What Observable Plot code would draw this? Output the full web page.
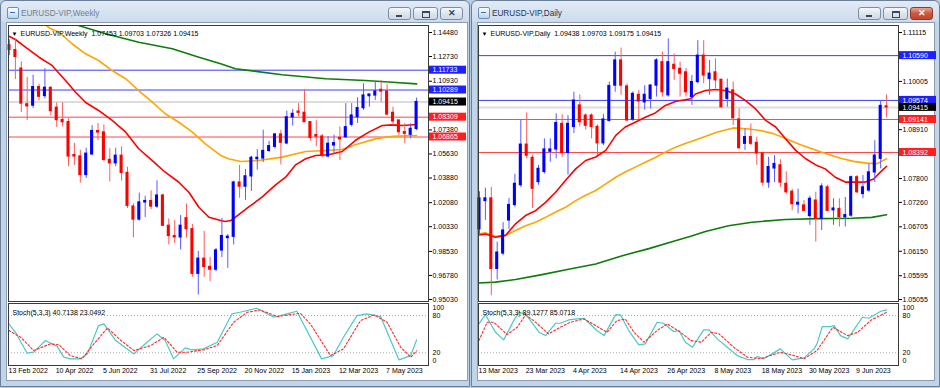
<!DOCTYPE html>
<html>
<head>
<meta charset="utf-8">
<script src="https://cdn.jsdelivr.net/npm/d3@7"></script>
<script src="https://cdn.jsdelivr.net/npm/@observablehq/plot@0.6"></script>
<style>
html,body{margin:0;padding:0}
body{width:940px;height:388px;overflow:hidden;position:relative;background:#b8cde4;font-family:"Liberation Sans",Arial,sans-serif}
.win{position:absolute;top:0;height:387px;box-sizing:border-box;border:1px solid #6b7f98;border-radius:6px 6px 0 0;background:linear-gradient(#e2ebf6 0,#cddcec 20px,#c2d4e8 22px,#c2d4e8 100%)}
.ttl{position:absolute;top:7px;font-size:8.2px;line-height:11px;white-space:nowrap}
.inactive{color:#6d7f95}
.active{color:#1d3557}
.icon{position:absolute;top:6px;width:10px;height:10px;border:1px solid #6c8fb6;border-radius:2px;background:linear-gradient(#ffffff,#b9d3ee)}
.icon:after{content:"";position:absolute;left:2px;top:4px;width:5px;height:3px;border-top:1px solid #3a72b8}
.btn{position:absolute;top:6px;height:13px;box-sizing:border-box;border:1px solid #7d8ea4;border-radius:3px;background:linear-gradient(#f6f8fb,#dde5ee 50%,#cfd9e5)}
.gmin{position:absolute;left:7px;top:7px;width:6px;height:2px;background:#36475c}
.grest{position:absolute;left:8px;top:3px;width:6px;height:4px;border:1px solid #36475c;border-top-width:2px}
.gx{position:absolute;left:0;right:0;top:0;text-align:center;font-size:9px;line-height:11px;color:#36475c;font-weight:bold}
.red{background:linear-gradient(#e8a493,#d0573f 50%,#c3452c);border-color:#8e3b2c}
.red .gx{color:#fff}
.client{position:absolute;background:#fff;border:1px solid #8d9cb0;box-sizing:border-box}
.chart{position:absolute}
</style>
</head>
<body>
<div class="win" style="left:0;width:470px">
  <div class="icon" style="left:6px"></div>
  <div class="ttl inactive" style="left:20px">EURUSD-VIP,Weekly</div>
  <div class="btn" style="left:387px;width:23px"><div class="gmin"></div></div>
  <div class="btn" style="left:412px;width:25px"><div class="grest"></div></div>
  <div class="btn" style="left:439px;width:23px"><div class="gx">✕</div></div>
  <div class="client" style="left:5px;top:21px;width:462px;height:359px"></div>
</div>
<div class="win" style="left:471px;width:469px">
  <div class="icon" style="left:6px"></div>
  <div class="ttl active" style="left:20px">EURUSD-VIP,Daily</div>
  <div class="btn" style="left:386px;width:23px"><div class="gmin"></div></div>
  <div class="btn" style="left:411px;width:25px"><div class="grest"></div></div>
  <div class="btn red" style="left:438px;width:23px"><div class="gx">✕</div></div>
  <div class="client" style="left:5px;top:21px;width:458px;height:359px"></div>
</div>
<script>
// ---------- Weekly EURUSD (13 Feb 2022 .. 11 Jun 2023) ----------
const wOpen = [1.1355,1.1320,1.1185,1.0925,1.0915,1.1050,1.0985,1.1045,1.0900,1.0810,
1.0795,1.0555,1.0545,1.0410,1.0560,1.0730,1.0720,1.0520,1.0495,1.0550,
1.0425,1.0180,1.0085,1.0210,1.0220,1.0180,1.0260,1.0040,0.9965,0.9955,
1.0095,1.0015,0.9690,0.9800,0.9740,0.9720,0.9860,0.9950,0.9960,1.0355,
1.0325,1.0400,1.0525,1.0530,1.0585,1.0615,1.0705,1.0640,1.0830,1.0872,
1.0863,1.0795,1.0700,1.0690,1.0545,1.0625,1.0680,1.0685,1.0776,1.0831,
1.0897,1.0984,1.0989,1.1030,1.1018,1.0863,1.0807,1.0722,1.0703,1.07453];
const wHigh = [1.1395,1.1395,1.1235,1.1121,1.1137,1.1070,1.1185,1.1050,1.0935,1.0936,
1.0820,1.0640,1.0590,1.0605,1.0770,1.0785,1.0775,1.0601,1.0605,1.0615,
1.0465,1.0200,1.0278,1.0255,1.0295,1.0368,1.0270,1.0090,1.0079,1.0114,
1.0198,1.0050,0.9853,0.9999,0.9810,0.9875,1.0093,0.9975,1.0365,1.0480,
1.0450,1.0545,1.0595,1.0736,1.0655,1.0713,1.0735,1.0875,1.0887,1.0930,
1.1033,1.0800,1.0805,1.0705,1.0690,1.0700,1.0760,1.0930,1.0930,1.0973,
1.1075,1.1001,1.1091,1.1098,1.1068,1.0904,1.0807,1.0783,1.0783,1.09703];
const wLow = [1.1280,1.1106,1.0866,1.0806,1.0895,1.0950,1.0965,1.0840,1.0757,1.0760,
1.0470,1.0480,1.0350,1.0385,1.0550,1.0660,1.0505,1.0359,1.0470,1.0366,
1.0165,0.9952,1.0075,1.0100,1.0158,1.0165,1.0035,0.9900,0.9910,0.9864,
0.9950,0.9665,0.9536,0.9665,0.9632,0.9705,0.9808,0.9730,0.9900,1.0240,
1.0225,1.0290,1.0445,1.0500,1.0575,1.0600,1.0483,1.0630,1.0766,1.0835,
1.0795,1.0655,1.0615,1.0535,1.0535,1.0560,1.0515,1.0676,1.0760,1.0785,
1.0880,1.0904,1.0953,1.0940,1.0848,1.0770,1.0698,1.0637,1.0673,1.07326];
const wClose = [1.1320,1.1270,1.0930,1.0910,1.1050,1.0980,1.1045,1.0875,1.0810,1.0795,
1.0545,1.0545,1.0410,1.0565,1.0730,1.0720,1.0520,1.0495,1.0550,1.0425,
1.0185,1.0085,1.0210,1.0220,1.0180,1.0260,1.0040,0.9965,0.9955,1.0040,
1.0015,0.9690,0.9800,0.9740,0.9720,0.9860,0.9965,0.9960,1.0355,1.0325,
1.0400,1.0535,1.0535,1.0585,1.0620,1.0705,1.0645,1.0830,1.0855,1.0863,
1.0795,1.0680,1.0690,1.0552,1.0637,1.0642,1.0670,1.0758,1.0843,1.0897,
1.0989,1.0996,1.1018,1.1018,1.0850,1.0800,1.0722,1.0710,1.0746,1.09415];
// moving averages: [bar index, price]
const wMaRed = [[0.9,1.1421],[2,1.1397],[3.7,1.1341],[6,1.1268],[8.2,1.1208],[10.5,1.1098],[12.2,1.1013],[13.9,1.0938],[16.1,1.0880],[18.4,1.0807],[20.7,1.0722],[22.9,1.0601],[25.2,1.0515],[27.4,1.0430],[29.7,1.0357],[31.4,1.0284],[33.1,1.0175],[34.8,1.0102],[36.8,1.0078],[37.6,1.0071],[38.5,1.0078],[39.3,1.0102],[41.5,1.0175],[43.8,1.0248],[46.1,1.0338],[47.8,1.0394],[49.5,1.0484],[51.2,1.0528],[52.9,1.0552],[55.1,1.0557],[57.4,1.0581],[59.6,1.0661],[61.9,1.0722],[64.2,1.0770],[65.9,1.0775],[67.6,1.0770],[70,1.0778]];
const wMaOrange = [[7.2,1.1500],[7.9,1.1477],[9.4,1.1450],[11.6,1.1366],[13.9,1.1293],[16.1,1.1244],[18.4,1.1171],[20.7,1.1111],[22.9,1.1025],[25.2,1.0940],[27.4,1.0856],[29.7,1.0794],[32,1.0722],[34.2,1.0637],[36.8,1.0552],[38.1,1.0528],[40.2,1.0508],[43.2,1.0515],[47.2,1.0540],[51.2,1.0581],[54.6,1.0588],[57.4,1.0596],[59.6,1.0630],[63,1.0673],[65.9,1.0692],[70,1.0698]];
const wMaGreen = [[12,1.1505],[12.7,1.1499],[17.3,1.1439],[22.9,1.1377],[28.6,1.1329],[33.1,1.1268],[36.8,1.1220],[39.3,1.1184],[47.2,1.1140],[54.6,1.1111],[61.3,1.1098],[65.9,1.1086],[70,1.1074]];
const wStochK = [[0.9,66.5],[2,53],[4,19.3],[5.1,21],[7.1,39.7],[9.1,30],[10.2,12.9],[11.3,10.2],[13,10.2],[14.2,18.2],[16.1,63.8],[17,66.5],[19,39.7],[22.1,18.2],[24.3,37],[26,50.4],[27.4,39.7],[28.8,10.2],[30.8,27.9],[31.9,24.7],[33.9,26.3],[36.2,37],[38.7,82.6],[40.1,85.3],[42.9,91.7],[45.8,77.2],[48,82.6],[49.7,86.9],[53.9,10.2],[55.9,15.5],[57.6,45],[59.9,79.9],[61.6,82.6],[63.9,78.3],[67,8.6],[69,15.5],[70,40.7]];
const wStochD = [[0.9,55.8],[2.9,45],[5.1,23.6],[7.9,34.3],[9.4,32.7],[11.3,15.5],[13.3,10.2],[15.3,34.3],[17.6,60],[19.9,39.7],[22.1,23.6],[24.9,31.6],[27.2,45],[29.4,20.9],[31.1,20.9],[33.9,24.7],[36.2,31.6],[39,69.2],[41.3,85.3],[43.5,89],[46.4,78.3],[48.6,81.5],[50.3,83.6],[52,66.5],[55.4,15.5],[57.6,26.3],[60.5,71.8],[62.8,81],[65,69.2],[67.3,29],[69,12.9],[70,23.0]];
const wTicks = [1.14480,1.12730,1.10930,1.07380,1.05630,1.03880,1.02080,1.00330,0.98530,0.96780,0.95030];
const wDateIdx = [1,9,17,25,33,41,49,57,65];
const wDateText = ["13 Feb 2022","10 Apr 2022","5 Jun 2022","31 Jul 2022","25 Sep 2022","20 Nov 2022","15 Jan 2023","12 Mar 2023","7 May 2023"];
const wBlueLevels = [1.11733,1.10289];
const wRedLevels = [1.08309,1.06865];
const wBid = 1.09415;
const wHeader = "EURUSD-VIP,Weekly  1.07453 1.09703 1.07326 1.09415";
const wStochHeader = "Stoch(5,3,3) 40.7138 23.0492";

// ---------- Daily EURUSD (13 Mar 2023 .. 16 Jun 2023) ----------
const dOpen = [1.0665,1.0729,1.0735,1.0575,1.0610,1.0685,1.0720,1.0765,1.0857,1.0827,
1.0772,1.0795,1.0841,1.0846,1.0904,1.0838,1.0897,1.0946,1.0923,1.0923,
1.0897,1.0860,1.0911,1.0991,1.1048,1.0989,1.0914,1.0970,1.0953,1.0961,
1.0991,1.1044,1.0969,1.1038,1.1029,1.1021,1.0965,1.0999,1.1059,1.1006,
1.1021,1.1004,1.0961,1.0980,1.0914,1.0859,1.0874,1.0861,1.0837,1.0771,
1.0803,1.0810,1.0768,1.0750,1.0721,1.0719,1.0695,1.0730,1.0689,1.0760,
1.0708,1.0711,1.0692,1.0696,1.0783,1.0745,1.0753,1.0794,1.0825,1.09438];
const dHigh = [1.0750,1.0758,1.0760,1.0636,1.0680,1.0735,1.0790,1.0912,1.0929,1.0833,
1.0810,1.0870,1.0870,1.0927,1.0925,1.0923,1.0976,1.0970,1.0927,1.0927,
1.0902,1.0926,1.0999,1.1067,1.1076,1.0995,1.0977,1.0980,1.0991,1.0993,
1.1052,1.1067,1.1097,1.1063,1.1044,1.1030,1.1014,1.1093,1.1093,1.1048,
1.1052,1.1006,1.1006,1.0999,1.0938,1.0893,1.0904,1.0874,1.0840,1.0828,
1.0832,1.0823,1.0795,1.0756,1.0756,1.0730,1.0740,1.0749,1.0768,1.0765,
1.0734,1.0734,1.0737,1.0786,1.0787,1.0787,1.0813,1.0866,1.0957,1.09703];
const dLow = [1.0650,1.0685,1.0514,1.0550,1.0605,1.0665,1.0715,1.0760,1.0825,1.0712,
1.0765,1.0790,1.0817,1.0825,1.0828,1.0788,1.0882,1.0897,1.0890,1.0870,
1.0832,1.0855,1.0908,1.0976,1.0969,1.0910,1.0910,1.0914,1.0935,1.0938,
1.0965,1.0965,1.0965,1.1003,1.0965,1.0965,1.0946,1.0995,1.0995,1.0969,
1.0984,1.0940,1.0942,1.0900,1.0847,1.0844,1.0855,1.0810,1.0763,1.0758,
1.0771,1.0760,1.0745,1.0707,1.0700,1.0705,1.0674,1.0636,1.0662,1.0705,
1.0674,1.0670,1.0670,1.0692,1.0745,1.0734,1.0749,1.0771,1.0802,1.09175];
const dClose = [1.0735,1.0735,1.0575,1.0612,1.0662,1.0720,1.0768,1.0857,1.0832,1.0757,
1.0802,1.0846,1.0846,1.0906,1.0838,1.0904,1.0957,1.0908,1.0900,1.0897,
1.0860,1.0914,1.0990,1.1048,1.0991,1.0912,1.0972,1.0955,1.0970,1.0991,
1.1048,1.0976,1.1044,1.1029,1.1018,1.0976,1.0999,1.1059,1.1014,1.1018,
1.1003,1.0942,1.0984,1.0917,1.0849,1.0874,1.0859,1.0837,1.0771,1.0806,
1.0813,1.0771,1.0749,1.0722,1.0725,1.0707,1.0734,1.0689,1.0762,1.0707,
1.0712,1.0692,1.0697,1.0783,1.0749,1.0760,1.0794,1.0832,1.0945,1.09415];
const dMaRed = [[0.8,1.0652],[2,1.0654],[3.7,1.0647],[5.4,1.0651],[7.1,1.0677],[8.8,1.0696],[10.5,1.0707],[12.2,1.0726],[13.9,1.0749],[15.6,1.0776],[17.3,1.0802],[19,1.0821],[20.7,1.0829],[22.4,1.0844],[24.1,1.0878],[25.7,1.0897],[27.4,1.0908],[29.1,1.0919],[30.8,1.0929],[32.5,1.0946],[34.2,1.0955],[36.8,1.0961],[37.6,1.0972],[39.3,1.0980],[41,1.0982],[42.7,1.0980],[44.4,1.0972],[46.1,1.0957],[47.8,1.0938],[49.5,1.0912],[51.2,1.0897],[52.9,1.0870],[54.6,1.0844],[56.3,1.0825],[58,1.0811],[59.6,1.0802],[61.3,1.0783],[63,1.0772],[64.7,1.0772],[66.4,1.0772],[67.8,1.0779],[68.9,1.0794],[70,1.0808]];
const dMaOrange = [[0.8,1.0654],[2,1.0657],[3.7,1.0649],[5.4,1.0651],[7.1,1.0662],[8.8,1.0673],[10.5,1.0681],[12.2,1.0692],[13.9,1.0704],[15.6,1.0715],[17.3,1.0730],[19,1.0742],[20.7,1.0753],[22.4,1.0768],[24.1,1.0783],[25.7,1.0795],[27.4,1.0806],[29.1,1.0817],[30.8,1.0828],[32.5,1.0840],[34.2,1.0851],[36,1.0860],[38.9,1.0874],[41.2,1.0885],[44,1.0895],[46.3,1.0893],[48.6,1.0889],[50.8,1.0882],[53.1,1.0870],[55.4,1.0857],[57.7,1.0846],[59.9,1.0836],[62.2,1.0826],[64.4,1.0819],[66.7,1.0815],[68.4,1.0814],[70,1.0825]];
const dMaGreen = [[0.8,1.0543],[3.7,1.0545],[7.1,1.0551],[11.6,1.0562],[16.1,1.0574],[20.7,1.0586],[25.2,1.0605],[29.7,1.0621],[34.2,1.0639],[36.8,1.0649],[39.3,1.0660],[43.2,1.0673],[47.2,1.0681],[52.8,1.0687],[58.5,1.0689],[64.1,1.0690],[67.5,1.0692],[70,1.0698]];
const dStochK = [[0.9,66.5],[2,81.5],[3.7,53],[5.1,40.8],[6.8,71.8],[7.7,85.3],[8.8,82.6],[11.1,53],[12.2,47.7],[13.9,67.6],[14.7,67.6],[16.1,72.9],[17.6,74.5],[18.7,75.6],[20.9,55.8],[22.1,47.7],[24.1,81.5],[24.9,81],[26.3,55.8],[28,32.7],[29.1,34.3],[31.1,69.2],[32.2,67.6],[33.9,54.2],[34.8,55.8],[35.9,37],[37.1,29],[39,56.8],[39.9,56.8],[41.3,42.4],[43,29],[44.7,15.5],[46.4,9.1],[47.5,9.1],[48.1,13.9],[49.2,10.2],[52,26.3],[54,8.6],[56,11.8],[57.7,26.3],[58.2,34.3],[59.1,62.2],[60.5,62.2],[61.1,63.8],[62.2,47.7],[63.4,42.4],[65.9,77.2],[67,75.6],[69,86.9],[70,89.1]];
const dStochD = [[0.9,39.7],[2.3,69.2],[3.4,69.2],[5.7,49.3],[7.4,61.1],[8.8,81],[10.2,71.8],[12.7,50.4],[14.7,61.1],[16.4,69.2],[18.7,74.5],[20.7,63.8],[22.6,53],[24.3,71.8],[25.7,74.5],[27.2,53],[28.9,37],[31.1,55.8],[32.8,66.5],[35.1,53],[36.8,39.7],[38.6,37],[40.3,53],[41.6,50.4],[44.1,29],[46.4,12.9],[48.6,10.2],[52,20.9],[54.3,15.5],[56,10.2],[58.2,23.6],[60.9,61.1],[63.4,47.7],[65.1,53],[67.4,72.9],[70,85.1]];
const dTicks = [1.11115,1.10005,1.08910,1.07800,1.07260,1.06705,1.06150,1.05595,1.05055];
const dDateIdx = [1,9,17,25,33,41,49,57,65];
const dDateText = ["13 Mar 2023","23 Mar 2023","4 Apr 2023","14 Apr 2023","26 Apr 2023","8 May 2023","18 May 2023","30 May 2023","9 Jun 2023"];
const dBlueLevels = [1.10590,1.09574];
const dRedLevels = [1.09141,1.08392];
const dBid = 1.09415;
const dHeader = "EURUSD-VIP,Daily  1.09438 1.09703 1.09175 1.09415";
const dStochHeader = "Stoch(5,3,3) 89.1277 85.0718";

const stochLevels = [80, 20];

// ---------- drawing ----------
const FONT = "'Liberation Sans', Arial, 'DejaVu Sans', sans-serif";
const BULL = "#0000ff", BEAR = "#ff0000";
const XDOM = [0.83, 72.02];

function mainPanel(p) {
  const bars = p.open.map((o, k) => ({i: k + 1, o, h: p.high[k], l: p.low[k], c: p.close[k]}));
  const boxes = [
    ...p.blue.map(v => ({v, fill: "#1f1fff"})),
    {v: p.bid, fill: "#000000"},
    ...p.red.map(v => ({v, fill: "#ff1f1f"}))
  ];
  const ln = (pts, stroke) => Plot.line(pts, {x: d => d[0], y: d => d[1], stroke, strokeWidth: 1.6, clip: true});
  return Plot.plot({
    width: 462, height: 280,
    marginLeft: 2, marginRight: 40, marginTop: 2, marginBottom: 2,
    style: {background: "transparent", fontFamily: FONT, fontSize: "7px", color: "#000", overflow: "visible"},
    x: {domain: XDOM, axis: null},
    y: {domain: p.yDomain, axis: "right", ticks: p.ticks, tickFormat: d => d.toFixed(5), tickSize: 3, tickPadding: 1, label: null},
    color: {type: "identity"},
    marks: [
      Plot.ruleY([p.bid], {stroke: "#dcdcdc", strokeWidth: 2}),
      Plot.ruleY(p.blue, {stroke: "#3c3cff", strokeWidth: 1}),
      Plot.ruleY(p.red, {stroke: "#ff4646", strokeWidth: 1}),
      ln(p.green, "#0a7d0a"),
      ln(p.orange, "#ffa500"),
      ln(p.redMA, "#ff0000"),
      Plot.ruleX(bars, {x: "i", y1: "l", y2: "h", stroke: d => d.c >= d.o ? "#5a5aff" : "#ff5a5a", strokeWidth: 1}),
      Plot.rect(bars, {x1: d => d.i - 0.26, x2: d => d.i + 0.26, y1: d => Math.min(d.o, d.c), y2: d => Math.max(d.o, d.c),
        fill: d => d.c >= d.o ? BULL : BEAR, insetTop: -0.6, insetBottom: -0.6}),
      Plot.frame({stroke: "#3a3a3a"}),
      Plot.rect(boxes, {y1: "v", y2: "v", fill: "fill", insetLeft: 421, insetRight: -38, insetTop: -4, insetBottom: -4}),
      Plot.text(boxes, {y: "v", text: d => d.v.toFixed(5), frameAnchor: "right", dx: 4, textAnchor: "start", fill: "#fff", fontSize: 7}),
      Plot.text(["▼"], {frameAnchor: "top-left", dx: 3, dy: 6, textAnchor: "start", fontSize: 6}),
      Plot.text([p.header], {frameAnchor: "top-left", dx: 12, dy: 6, textAnchor: "start", fontSize: 7})
    ]
  });
}

function stochPanel(p) {
  const dates = p.dateIdx.map((i, k) => ({i, t: p.dateText[k]}));
  return Plot.plot({
    width: 462, height: 82,
    marginLeft: 2, marginRight: 40, marginTop: 2, marginBottom: 18,
    style: {background: "transparent", fontFamily: FONT, fontSize: "7px", color: "#000", overflow: "visible"},
    x: {domain: XDOM, axis: null},
    y: {domain: [-0.5, 99.4], axis: null},
    marks: [
      Plot.ruleY(stochLevels, {stroke: "#a8a8a8", strokeDasharray: "1,2"}),
      Plot.line(p.k, {x: d => d[0], y: d => d[1], stroke: "#4cc9c1", strokeWidth: 1.2}),
      Plot.line(p.d, {x: d => d[0], y: d => d[1], stroke: "#ff2a2a", strokeWidth: 1.1, strokeDasharray: "2,2"}),
      Plot.frame({stroke: "#3a3a3a"}),
      Plot.text(stochLevels, {y: d => d, text: d => String(d), frameAnchor: "right", dx: 4, textAnchor: "start", fontSize: 7}),
      Plot.text([100], {y: d => d, text: d => String(d), frameAnchor: "right", dx: 4, dy: 5, textAnchor: "start", fontSize: 7}),
      Plot.text([0], {y: d => d, text: d => String(d), frameAnchor: "right", dx: 4, dy: -4, textAnchor: "start", fontSize: 7}),
      Plot.text([p.header], {frameAnchor: "top-left", dx: 4, dy: 6.5, textAnchor: "start", fontSize: 7}),
      Plot.text(dates, {x: "i", text: "t", frameAnchor: "bottom", dy: 7, dx: -1, textAnchor: "start", fontSize: 7})
    ]
  });
}

function place(el, left, top) {
  el.classList.add("chart");
  el.style.left = left + "px";
  el.style.top = top + "px";
  document.body.appendChild(el);
}

place(mainPanel({open: wOpen, high: wHigh, low: wLow, close: wClose, yDomain: [0.94881, 1.14990], ticks: wTicks,
  blue: wBlueLevels, red: wRedLevels, bid: wBid, redMA: wMaRed, orange: wMaOrange, green: wMaGreen, header: wHeader}), 6, 23);
place(stochPanel({k: wStochK, d: wStochD, header: wStochHeader, dateIdx: wDateIdx, dateText: wDateText}), 6, 301);
place(mainPanel({open: dOpen, high: dHigh, low: dLow, close: dClose, yDomain: [1.05010, 1.11274], ticks: dTicks,
  blue: dBlueLevels, red: dRedLevels, bid: dBid, redMA: dMaRed, orange: dMaOrange, green: dMaGreen, header: dHeader}), 476, 23);
place(stochPanel({k: dStochK, d: dStochD, header: dStochHeader, dateIdx: dDateIdx, dateText: dDateText}), 476, 301);
</script>
</body>
</html>
